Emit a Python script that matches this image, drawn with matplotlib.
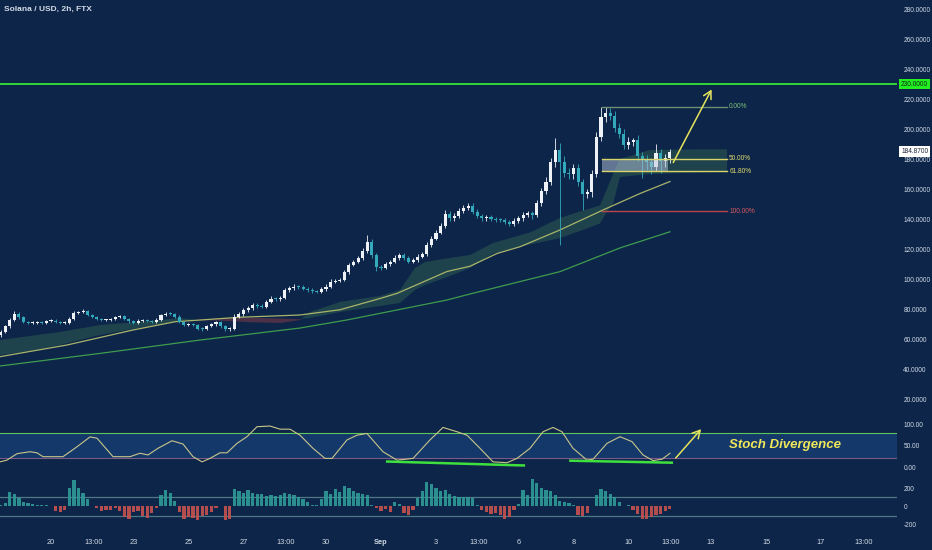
import numpy as np
import pandas as pd
import matplotlib
matplotlib.use("Agg")
import matplotlib.pyplot as plt
from matplotlib import font_manager
from matplotlib.transforms import blended_transform_factory

# ---------------- data ----------------
title = "Solana / USD, 2h, FTX"
first_candle = "2021-08-18 04:00"
ref_day = "2021-08-20 00:00"
open0 = 63.0
closes = [65, 68.5, 73, 77, 74.5, 71.5, 70.5, 71, 71.5, 70.8,
          72, 72.3, 71.5, 70.7, 71, 73.5, 77.5, 78, 78.8, 76,
          74.5, 73.3, 72.5, 72.8, 73.2, 74.5, 75.3, 73.5, 71.8, 71,
          72.3, 72.8, 72, 71.6, 73, 76, 77, 76.8, 75, 71.5,
          69.5, 69.8, 69.3, 67, 66.5, 68.5, 69.8, 71.2, 68.5, 66.5,
          67, 75, 76.5, 79.3, 80.5, 82.7, 82, 81.5, 85, 87,
          86.5, 87.5, 92.5, 94, 95, 94.5, 93.5, 92.5, 91.8, 91.5,
          93.3, 95, 98.2, 98.8, 99.5, 104.5, 109.5, 111.5, 114, 118.5,
          125, 116, 108, 107.5, 110, 111.5, 114, 116, 113.8, 111.5,
          112.5, 115, 116.5, 122.5, 127, 131, 135.5, 143.5, 140.5, 142,
          145.5, 147.5, 148.5, 145, 142, 140.5, 141.5, 140, 139.5, 139.3,
          138, 137, 139, 140.5, 143, 144, 143, 151, 159, 165,
          178, 186, 178, 171, 170, 174, 165, 157, 158, 170,
          195, 208, 211, 209, 201, 197, 189.5, 191.5, 193, 182,
          179.5, 178, 175, 184, 178.5, 180.5, 184.87]
wick_up = [1, 1, 1, 1.5, 1, 0.8, 0.8, 0.8, 0.8, 0.8,
           0.8, 0.8, 0.8, 0.8, 0.8, 1, 1, 1, 1.2, 0.8,
           0.8, 0.8, 0.8, 0.8, 0.8, 0.8, 1, 0.8, 0.8, 0.8,
           0.8, 0.8, 0.8, 0.8, 0.8, 1, 1, 0.8, 0.8, 0.8,
           0.8, 0.8, 0.8, 0.8, 0.8, 0.8, 1, 0.8, 0.8, 0.8,
           0.8, 1.5, 1.2, 1.2, 1.2, 1.5, 1.2, 1.2, 1.2, 1.5,
           1.2, 1.2, 1.5, 1.5, 1.5, 1.2, 1.2, 1.2, 1.2, 1.2,
           1.2, 1.5, 1.5, 1.5, 1.5, 1.5, 1.5, 1.5, 1.5, 2,
           4.3, 2, 1.5, 1.5, 1.5, 1.5, 2, 1.5, 1.5, 1.5,
           1.5, 1.5, 1.5, 2, 2, 2, 2, 2.5, 2, 2,
           2, 2, 2, 2, 2, 1.5, 1.5, 1.5, 1.5, 1.5,
           1.5, 1.5, 1.5, 1.5, 2, 1.5, 1.5, 2, 2, 3,
           3, 8, 5, 4, 3, 3, 3, 2, 2, 3,
           3, 7, 4, 3, 3, 3, 3, 3, 1, 3,
           3, 3, 3, 6, 3, 3, 2]
wick_dn = [1.5, 1, 1, 1, 1, 1, 0.8, 0.8, 0.8, 0.8,
           0.8, 0.8, 0.8, 0.8, 0.8, 0.8, 0.8, 0.8, 0.8, 0.8,
           0.8, 0.8, 0.8, 0.8, 0.8, 0.8, 0.8, 0.8, 0.8, 0.8,
           0.8, 0.8, 0.8, 0.8, 0.8, 0.8, 0.8, 0.8, 0.8, 1,
           1, 0.8, 0.8, 1, 1, 0.8, 0.8, 0.8, 1, 1.2,
           1, 1, 1, 1, 1, 1, 1, 1, 1, 1,
           1, 1, 1, 1, 1, 1, 1, 1, 1, 1,
           1, 1, 1, 1, 1, 1, 1, 1, 1, 1,
           1, 2, 2.5, 1.5, 1, 1, 1, 1, 1, 1,
           1, 1, 1, 1, 1, 1, 1, 1.5, 1.5, 1.5,
           1.5, 1.5, 1.5, 1.5, 1.5, 1.5, 1.5, 1.5, 1.5, 1.5,
           1.5, 1.5, 1.5, 1.5, 1.5, 1.5, 3, 1.5, 2, 2,
           2, 3, 55, 3, 3, 3, 3, 11, 3, 3,
           2, 3, 3, 3, 3, 3, 3, 3, 3, 3,
           12, 5, 5, 3, 8, 4, 3]
hist_vals = [20, 40, 160, 130, 90, 50, 35, 25, 15, 15,
             20, 10, -50, -55, -40, 200, 285, 200, 150, 80,
             10, -20, -45, -40, -35, -20, -50, -110, -135, -60,
             -50, -100, -120, -70, -20, 120, 180, 150, 60, -60,
             -140, -110, -120, -150, -100, -90, -60, -20, 10, -150,
             -130, 190, 170, 150, 180, 150, 140, 130, 110, 120,
             110, 120, 150, 140, 120, 100, 80, 50, 15, 20,
             80, 170, 140, 190, 160, 225, 200, 170, 150, 130,
             120, 20, -20, -50, -30, -60, 50, 30, -70, -90,
             -40, 90, 170, 260, 240, 200, 170, 180, 140, 110,
             100, 100, 100, 90, 20, -40, -60, -80, -70, -90,
             -130, -110, -40, 30, 180, 120, 300, 250, 200, 180,
             170, 120, 60, 50, 40, 20, -90, -100, -70, 10,
             120, 190, 170, 130, 100, 50, 10, 20, -40, -80,
             -130, -140, -110, -90, -80, -50, -30]

# stochastic line (day offset from 20 Aug, value)
stoch_days = [-1.855, -1.6, -1.236, -0.764, -0.509, -0.291, 0.436, 0.945, 1.418, 1.673,
              2.255, 2.873, 3.236, 3.527, 3.891, 4.4, 4.8, 5.164, 5.491, 5.782,
              6.145, 6.4, 6.764, 7.127, 7.491, 7.964, 8.327, 8.69, 9.055, 9.527,
              9.964, 10.218, 10.764, 11.127, 11.49, 12.073, 12.582, 13.164, 13.782, 14.255,
              14.764, 15.127, 15.6, 16.073, 16.582, 16.945, 17.418, 17.891, 18.255, 18.582,
              18.982, 19.491, 19.709, 20.218, 20.691, 21.127, 21.527, 21.891, 22.218, 22.509]
stoch_vals = [12, 16, 31, 35.5, 33, 24, 24, 47, 70, 67,
              24, 24, 32, 28, 43.5, 61, 53.5, 24, 12, 20,
              33, 33, 55, 70.5, 93.7, 95.3, 88, 88, 74, 43.5,
              20, 20, 63, 74, 78, 35.5, 16, 20, 63, 92,
              82, 74, 43.5, 12, 10, 20, 43.5, 82, 92, 82,
              43.5, 16, 18, 55, 70.5, 59, 28, 15, 18, 32]

# moving averages
ma_fast_days = [-1.855, 0.582, 2.982, 4.509, 6.873, 9.055, 10.509, 11.964, 12.582, 14.4,
                15.236, 16.218, 17.055, 18.509, 20.073, 21.418, 22.509]
ma_fast_vals = [48.2, 56, 66, 71.5, 74.5, 76, 79.5, 87, 90.4, 105,
                108.5, 117, 121.5, 132.7, 146, 157, 165]
ma_slow_days = [-1.855, 1.782, 5.418, 9.055, 10.764, 14.4, 15.236, 18.509, 20.691, 22.509]
ma_slow_vals = [42, 50.4, 59.3, 67.3, 72.7, 86, 90, 104.9, 120.7, 131.5]

# ichimoku cloud
cloud_days = [-1.855, -0.764, 0.327, 1.782, 3.6, 4.691, 5.236, 6.145, 7.236, 8.327,
              9.055, 9.418, 10.509, 11.964, 12.691, 13.236, 13.6, 14.509, 15.236, 16.073,
              17.418, 18.509, 19.236, 19.964, 20.218, 20.436, 20.691, 21.782, 23.6, 24.582]
span_a = [59.3, 62, 64.7, 69.3, 72, 74, 73, 72.5, 71.5, 71,
          73, 78, 84.7, 88.7, 92.7, 107.3, 111.3, 114, 116, 124,
          131, 140.7, 145, 149, 160, 170, 180, 186, 186.5, 186.5]
span_b = [49.3, 52, 56, 62.7, 68.7, 72, 73, 74, 74.5, 74,
          73.5, 74, 78, 82, 84, 92.7, 96, 102, 107.3, 117,
          123, 127.3, 132, 137, 145, 150, 168, 170, 171, 171.5]

# fibonacci retracement
fib_high, fib_low = 215.0, 145.3
fib_levels = [0.0, 0.5, 0.618, 1.0]
fib_labels = ["0.00%", "50.00%", "61.80%", "100.00%"]
fib_start, fib_end = 20.04, 24.58
box_end = 22.44

target_level = 230.0
last_price = 184.87

price_ticks = [20, 40, 60, 80, 100, 120, 140, 160, 180, 200, 220, 240, 260, 280]
stoch_ticks = [0, 50, 100]
hist_ticks = [-200, 0, 200]

date_ticks = ["2021-08-20 00:00", "2021-08-21 13:00", "2021-08-23 00:00", "2021-08-25 00:00",
              "2021-08-27 00:00", "2021-08-28 13:00", "2021-08-30 00:00", "2021-09-01 00:00",
              "2021-09-03 00:00", "2021-09-04 13:00", "2021-09-06 00:00", "2021-09-08 00:00",
              "2021-09-10 00:00", "2021-09-11 13:00", "2021-09-13 00:00", "2021-09-15 00:00",
              "2021-09-17 00:00", "2021-09-18 13:00"]
date_labels = ["20", "13:00", "23", "25", "27", "13:00", "30", "Sep", "3", "13:00",
               "6", "8", "10", "13:00", "13", "15", "17", "13:00"]

# divergence lines in stochastic pane (day, value)
div1 = ([12.18, 17.24], [12.8, 3.5])
div2 = ([18.84, 22.62], [14.7, 10.0])

# ---------------- style ----------------
BG = "#0c2549"
TXT = "#d3dbe6"
UP = "#eef2f7"
DN = "#33aabb"

names = {f.name for f in font_manager.fontManager.ttflist}
NARROW = "Liberation Sans Narrow" in names
FAM = "Liberation Sans Narrow" if NARROW else "Liberation Sans"
plt.rcParams["font.family"] = [FAM, "DejaVu Sans"]
TICK_FS = 5.2 if NARROW else 4.7

W, H = 932, 550
fig = plt.figure(figsize=(W / 100, H / 100), dpi=100, facecolor=BG)


def pane(x0, y0, x1, y1):
    a = fig.add_axes([x0 / W, 1 - y1 / H, (x1 - x0) / W, (y1 - y0) / H])
    a.set_facecolor(BG)
    for s in a.spines.values():
        s.set_visible(False)
    return a


XL = (-1.8545, 30.764)
ax = pane(0, 0, 897, 417)
ax2 = pane(0, 417, 897, 471)
ax3 = pane(0, 471, 897, 532)
for a in (ax, ax2, ax3):
    a.set_xlim(*XL)
    a.yaxis.tick_right()
    a.tick_params(axis="y", length=0, pad=4.5, labelsize=TICK_FS, labelcolor=TXT)
    a.tick_params(axis="x", length=0)
ax.set_xticks([])
ax2.set_xticks([])

ax.set_ylim(8, 286)
ax2.set_ylim(-9.3, 116.3)
ax3.set_ylim(-275.7, 383.8)

# time axis
ref = pd.Timestamp(ref_day)
times = pd.date_range(first_candle, periods=len(closes), freq="4h")
t = ((times - ref) / pd.Timedelta(days=1)).to_numpy()

# ---- price pane ----
c = np.array(closes, dtype=float)
o = np.array([open0] + closes[:-1], dtype=float)
hi = np.maximum(o, c) + np.array(wick_up)
lo = np.minimum(o, c) - np.array(wick_dn)
up = c >= o
cols = np.where(up, UP, DN)

cd = np.array(cloud_days)
sa = np.array(span_a)
sb = np.array(span_b)
ax.fill_between(cd, sa, sb, where=sa >= sb, interpolate=True, color="#427a55", alpha=0.36, lw=0, zorder=1)
ax.fill_between(cd, sa, sb, where=sa < sb, interpolate=True, color="#8a3c48", alpha=0.5, lw=0, zorder=1)

ax.plot(ma_fast_days, ma_fast_vals, color="#a9b46a", lw=0.9, zorder=2)
ax.plot(ma_slow_days, ma_slow_vals, color="#3f9c4e", lw=0.9, zorder=2)

ax.vlines(t, lo, hi, colors=cols, lw=0.6, zorder=3)
body_h = np.maximum(np.abs(c - o), 0.6)
ax.bar(t, body_h, bottom=np.minimum(o, c), width=0.11, color=cols, lw=0, zorder=4)

ax.axhline(target_level, color="#33e633", lw=1.3, zorder=5)

# fib
fib_prices = [fib_high - lv * (fib_high - fib_low) for lv in fib_levels]
fib_line_cols = ["#6f8f74", "#d8d46a", "#d8d46a", "#b8444c"]
fib_txt_cols = ["#7ec07a", "#e0dc70", "#e0dc70", "#d85a60"]
ax.fill_between([fib_start, box_end], fib_prices[2], fib_prices[1], color="#b8c8de", alpha=0.5, lw=0, zorder=5)
for p, lc, tc, lab in zip(fib_prices, fib_line_cols, fib_txt_cols, fib_labels):
    ax.plot([fib_start, fib_end], [p, p], color=lc, lw=1.0, zorder=6)
    ax.text(fib_end + 0.08, p, lab, color=tc, fontsize=TICK_FS, va="center", ha="left", zorder=6)

ax.annotate("", xy=(24.07, 228), xytext=(22.58, 176),
            arrowprops=dict(arrowstyle="->,head_length=0.55,head_width=0.3", color="#e6e45c", lw=1.1),
            zorder=7)

tr = blended_transform_factory(ax.transAxes, ax.transData)
ax.text(1.0045, target_level, f"{target_level:.4f}", transform=tr, fontsize=TICK_FS, color="#0b2a10",
        va="center", ha="left", clip_on=False,
        bbox=dict(boxstyle="square,pad=0.3", fc="#22ee22", ec="none"), zorder=10)
ax.text(1.0045, last_price, f"{last_price:.4f}", transform=tr, fontsize=TICK_FS, color="#1a2030",
        va="center", ha="left", clip_on=False,
        bbox=dict(boxstyle="square,pad=0.3", fc="#ffffff", ec="none"), zorder=10)

ax.set_yticks(price_ticks)
ax.set_yticklabels([f"{v:.4f}" for v in price_ticks])

fig.text(4 / W, 1 - 9 / H, title, color=TXT, fontsize=6, fontweight="bold", va="center", ha="left")

# ---- stochastic pane ----
ax2.axhspan(20, 80, color="#14386a", lw=0, zorder=0)
ax2.axhline(80, color="#5cc65c", lw=0.8, zorder=1)
ax2.axhline(20, color="#7a5a88", lw=0.8, zorder=1)
ax2.plot(stoch_days, stoch_vals, color="#c9c68a", lw=0.8, zorder=2)
ax2.plot(*div1, color="#3ee03e", lw=1.8, solid_capstyle="butt", zorder=3)
ax2.plot(*div2, color="#3ee03e", lw=1.8, solid_capstyle="butt", zorder=3)
ax2.annotate("", xy=(23.71, 93), xytext=(22.65, 16),
             arrowprops=dict(arrowstyle="->,head_length=0.55,head_width=0.3", color="#e6e45c", lw=1.1),
             zorder=7)
ax2.text(26.7, 51, "Stoch Divergence", color="#eee85a", fontsize=11 if NARROW else 9.5,
         fontstyle="italic", fontweight="bold", ha="center", va="center", zorder=8)
ax2.set_yticks(stoch_ticks)
ax2.set_yticklabels([f"{v:.2f}" for v in stoch_ticks])

# ---- histogram pane ----
hv = np.array(hist_vals, dtype=float)
hcols = np.where(hv >= 0, "#2f9c98", "#c8524f")
ax3.axhline(100, color="#4e7884", lw=0.9, zorder=0)
ax3.axhline(-100, color="#4e7884", lw=0.9, zorder=0)
ax3.bar(t, hv, width=0.12, color=hcols, lw=0, alpha=0.9, zorder=1)
ax3.set_yticks(hist_ticks)
ax3.set_yticklabels([str(v) for v in hist_ticks])

dt = ((pd.to_datetime(date_ticks, format="%Y-%m-%d %H:%M") - ref) / pd.Timedelta(days=1)).to_numpy()
ax3.set_xticks(dt)
ax3.set_xticklabels(date_labels)
ax3.tick_params(axis="x", labelsize=5.3, labelcolor=TXT, pad=5)
for lab in ax3.get_xticklabels():
    if lab.get_text() == "Sep":
        lab.set_fontweight("bold")

for a in (ax, ax2, ax3):
    for lab in a.get_yticklabels():
        lab.set_horizontalalignment("left")

fig.savefig("out.png", dpi=100, facecolor=BG)
